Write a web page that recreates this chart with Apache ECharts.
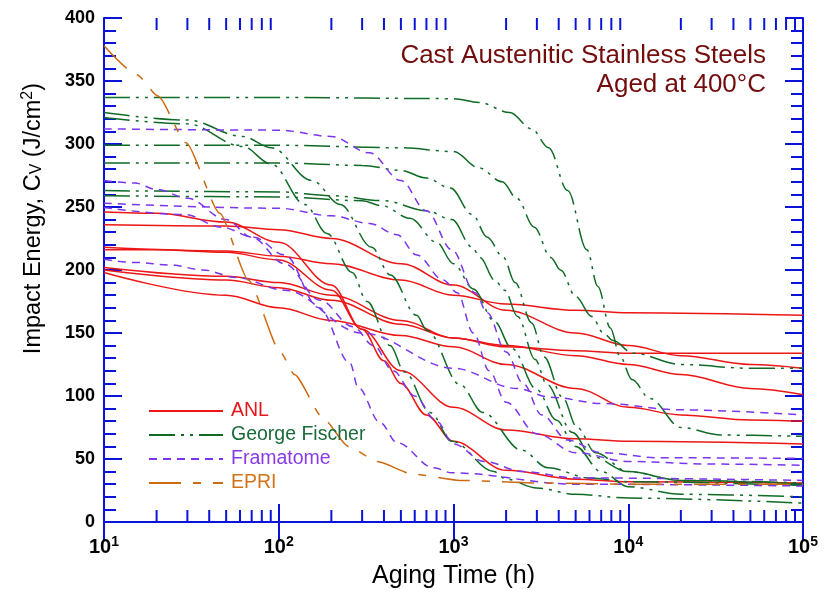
<!DOCTYPE html>
<html><head><meta charset="utf-8">
<script src="https://cdn.jsdelivr.net/npm/echarts@6/dist/echarts.min.js"></script>
<style>html,body{margin:0;padding:0;background:#fff}#c{width:829px;height:590px}</style>
</head><body><div id="c"></div><script>
// ---- data: [aging time (h), impact energy (J/cm2)] ----
const anl1 = [[10,246],[20,245],[50,238],[100,222],[200,188],[300,153],[400,128],[500,110],[700,85],[1000,64],[2000,41],[5000,34],[10000,32],[100000,31]];
const anl2 = [[10,216],[20,216],[50,214],[100,208],[200,184],[300,153],[500,120],[1000,91],[2000,73],[5000,66],[10000,64],[100000,62]];
const anl3 = [[10,236],[50,235],[100,232],[200,225],[500,205],[1000,188],[2000,168],[5000,150],[10000,140],[20000,132],[50000,125],[100000,122]];
const anl4 = [[10,218],[50,215],[100,211],[200,205],[500,192],[1000,180],[2000,173],[5000,168],[10000,166],[100000,164]];
const anl5 = [[10,202],[50,195],[100,190],[200,180],[500,160],[1000,146],[2000,139],[5000,136],[10000,134],[100000,134]];
const anl6 = [[10,200],[50,192],[100,186],[200,176],[500,157],[1000,146],[2000,140],[5000,132],[10000,125],[20000,117],[50000,106],[100000,101]];
const anl7 = [[10,198],[50,180],[100,170],[200,160],[500,148],[1000,139],[2000,125],[5000,106],[10000,91],[20000,85],[50000,81],[100000,80]];

const gf1 = [[10,337],[100,337],[1000,336],[1400,333],[2100,325],[2800,312],[3500,297],[4500,263],[5800,216],[6700,187],[7900,154],[9000,131],[10500,113],[13300,98],[20000,75],[34000,69],[100000,68]];
const gf2 = [[10,299],[100,299],[500,297],[1000,294],[1400,281],[1900,270],[2300,257],[2900,234],[3600,210],[4100,200],[5000,179],[6200,163],[7200,150],[8200,144],[10600,134],[20000,125],[50000,122],[100000,122]];
const gf3 = [[10,285],[100,285],[300,283],[500,279],[700,273],[960,265],[1280,244],[1560,226],[1930,210],[2250,190],[2800,158],[3300,131],[4200,99],[5100,75],[6500,55],[10000,40],[20000,33],[100000,30]];
const gf4 = [[10,325],[30,319],[62,306],[91,297],[155,271],[225,252],[340,218],[435,196],[615,164],[705,152],[1090,109],[1470,87],[2450,57],[3470,43],[6000,35],[10000,32],[100000,29]];
const gf5 = [[10,321],[30,316],[62,298],[91,284],[141,252],[189,229],[263,198],[320,175],[434,140],[525,119],[735,87],[980,64],[1700,40],[2000,34],[3000,27],[5000,22],[10000,19],[100000,15]];
const gf6 = [[10,263],[100,262],[200,259],[400,255],[700,247],[980,240],[1280,218],[1420,210],[1720,192],[1960,184],[2330,163],[2930,129],[3430,109],[4800,71],[6200,52],[9900,40],[20000,33],[100000,31]];
const gf7 = [[10,259],[100,258],[300,255],[390,251],[565,241],[800,222],[1000,205],[1300,185],[1720,159],[2150,138],[3000,105],[3860,81],[5000,60],[7000,40],[10000,28],[20000,22],[100000,20]];

const fra1 = [[10,312],[100,311],[200,306],[330,293],[500,271],[700,247],[980,216],[1330,182],[1560,166],[2000,135],[2500,110],[3200,85],[4500,65],[7000,55],[15000,51],[100000,50.5]];
const fra2 = [[10,271],[15,269],[20,264],[30,257],[50,240],[70,226],[108,205],[172,176],[266,155],[350,140],[450,120],[600,100],[800,80],[1000,62],[1500,48],[2500,40],[5000,35],[100000,33]];
const fra3 = [[10,253],[100,249],[200,243],[330,237],[475,228],[616,212],[873,192],[1050,182],[1300,150],[1600,120],[2000,95],[3000,70],[5000,55],[10000,48],[30000,46],[100000,45]];
const fra4 = [[10,249.5],[29,244],[47,234],[72,226],[108,212],[170,170],[256,126],[284,107],[380,79],[475,63],[770,43],[980,39],[5000,30],[100000,28.6]];
const fra5 = [[10,208.5],[15,206],[24,204],[37,200],[57,194],[108,184],[300,150],[1000,122],[2300,106],[3600,99],[7200,94],[20000,89],[100000,85]];

const epri1 = [[10,378],[15.4,355],[20.4,338],[29.5,301],[46,245],[67,192],[102,135],[123,117],[180,82],[250,60],[366,48],[585,38],[1090,33],[3000,31],[10000,30],[100000,30]];

const groups = [
  {name:'ANL', color:'#ee1515', dash:'solid', curves:[anl1,anl2,anl3,anl4,anl5,anl6,anl7]},
  {name:'George Fischer', color:'#0f6b25', dash:[26,6,3,6,3,6], curves:[gf1,gf2,gf3,gf4,gf5,gf6,gf7]},
  {name:'Framatome', color:'#7b35ec', dash:[8,6], curves:[fra1,fra2,fra3,fra4,fra5]},
  {name:'EPRI', color:'#cc6a12', dash:[32,12,8,12], curves:[epri1]}
];
const legendColors = {'ANL':'#e8141c','George Fischer':'#1b6b3a','Framatome':'#8a3ae6','EPRI':'#d2731a'};
const xMin = 10, xMax = 100000, yMin = 0, yMax = 400;

const BLUE = '#0a14d8';
const FONT = 'Liberation Sans, Arial, sans-serif';

const minorX = [];
for (let e = 1; e < 5; e++) for (let m = 2; m <= 9; m++) minorX.push([m * Math.pow(10, e), 0]);

const series = [];
groups.forEach(g => g.curves.forEach(c => series.push({
  name: g.name, type: 'line', data: c, symbol: 'none', smooth: g.name === 'EPRI' ? 0.2 : 0.35, smoothMonotone: 'x',
  lineStyle: {color: g.color, width: 1.5, type: g.dash}, itemStyle: {color: g.color},
  emphasis: {disabled: true}, silent: true, animation: false
})));
series.push({
  type: 'custom', silent: true, clip: false, animation: false, data: minorX, encode: {x: 0, y: 1},
  renderItem: (p, api) => {
    const b = api.coord([api.value(0), yMin]);
    const t = api.coord([api.value(0), yMax]);
    return {type: 'group', children: [
      {type: 'line', shape: {x1: b[0], y1: b[1], x2: b[0], y2: b[1] - 12}, style: {stroke: BLUE, lineWidth: 2}},
      {type: 'line', shape: {x1: t[0], y1: t[1], x2: t[0], y2: t[1] + 12}, style: {stroke: BLUE, lineWidth: 2}}
    ]};
  }
});

const axisCommonX = {
  type: 'log', logBase: 10, min: xMin, max: xMax,
  axisLine: {show: true, lineStyle: {color: BLUE, width: 2}},
  axisTick: {show: true, inside: true, length: 18, lineStyle: {color: BLUE, width: 2}},
  splitLine: {show: false}
};
const axisCommonY = {
  type: 'value', min: yMin, max: yMax, interval: 50,
  axisLine: {show: true, lineStyle: {color: BLUE, width: 2}},
  axisTick: {show: true, inside: true, length: 18, lineStyle: {color: BLUE, width: 2}},
  minorTick: {show: true, splitNumber: 5, length: 12, lineStyle: {color: BLUE, width: 2}},
  splitLine: {show: false}
};

const chart = echarts.init(document.getElementById('c'), null, {renderer: 'canvas'});
chart.setOption({
  animation: false,
  backgroundColor: '#fff',
  grid: {left: 104, right: 26, top: 18, bottom: 68, containLabel: false, outerBoundsMode: 'none'},
  xAxis: [
    Object.assign({}, axisCommonX, {position: 'bottom',
      axisLabel: {margin: 13, color: '#000', fontFamily: FONT,
        formatter: v => '{b|10}{s|' + Math.round(Math.log10(v)) + '}',
        rich: {b: {fontSize: 20, fontWeight: 'bold', fontFamily: FONT, color: '#000'},
               s: {fontSize: 14, fontWeight: 'bold', fontFamily: FONT, color: '#000', verticalAlign: 'bottom', padding: [0, 0, 10, 0]}}},
      name: 'Aging Time (h)', nameLocation: 'middle', nameGap: 42,
      nameTextStyle: {fontSize: 25, color: '#000', fontFamily: FONT}}),
    Object.assign({}, axisCommonX, {position: 'top', axisLabel: {show: false}})
  ],
  yAxis: [
    Object.assign({}, axisCommonY, {position: 'left',
      axisLabel: {margin: 9, fontSize: 18, fontWeight: 'bold', color: '#000', fontFamily: FONT}}),
    Object.assign({}, axisCommonY, {position: 'right', axisLabel: {show: false}})
  ],
  legend: {
    left: 148, top: 401, orient: 'vertical', itemWidth: 74, itemHeight: 14, itemGap: 4, padding: 0,
    selectedMode: false,
    itemStyle: {opacity: 0, borderWidth: 0},
    textStyle: {fontSize: 19.5, fontFamily: FONT, lineHeight: 20, padding: [0, 0, 0, 3]},
    data: groups.map(g => ({name: g.name, textStyle: {color: legendColors[g.name]}}))
  },
  graphic: [
    {type: 'text', right: 63, top: 41, style: {text: 'Cast Austenitic Stainless Steels\nAged at 400°C',
      textAlign: 'right', fill: '#730c0c', font: '26px ' + FONT, lineHeight: 29}},
    {type: 'text', left: 20, top: 83, rotation: Math.PI / 2,
      style: {text: '{n|Impact Energy, C}{sub|V}{n| (J/cm}{sup|2}{n|)}', fill: '#000',
        rich: {n: {fontSize: 23.5, fontFamily: FONT, color: '#000'},
               sub: {fontSize: 16, fontFamily: FONT, color: '#000', verticalAlign: 'top', padding: [9, 0, 0, 0]},
               sup: {fontSize: 16, fontFamily: FONT, color: '#000', verticalAlign: 'bottom', padding: [0, 0, 11, 0]}}}}
  ],
  series: series
});
</script></body></html>
